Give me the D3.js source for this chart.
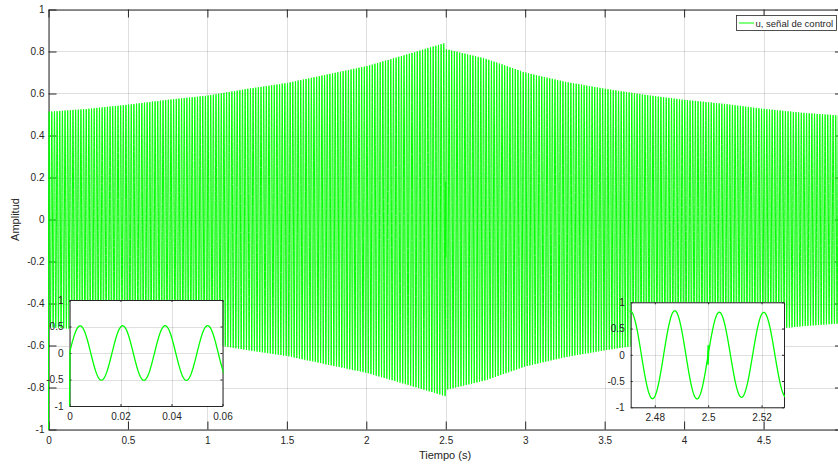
<!DOCTYPE html>
<html><head><meta charset="utf-8">
<script src="https://cdn.jsdelivr.net/npm/d3@7"></script>
<style>
body{margin:0;background:#fff;}
svg text{font-family:"Liberation Sans",Arial,Helvetica,sans-serif;fill:#262626;}
</style></head>
<body><svg id="c" width="838" height="464"></svg>
<script>
// ---- data ----
const carrierHz = 60;                 // 60 Hz sinusoid (period ~0.0167 s)
const startValue = -1;                // first sample of the signal
const riseTimes = [0, 0.25, 0.5, 0.75, 1, 1.25, 1.5, 1.75, 2, 2.25, 2.5];
const riseAmp   = [0.513, 0.527, 0.547, 0.57, 0.59, 0.622, 0.65, 0.69, 0.73, 0.785, 0.842];
const fallTimes = [2.5, 2.75, 3, 3.25, 3.5, 3.75, 4, 4.25, 4.5, 4.75, 5];
const fallAmp   = [0.812, 0.766, 0.70, 0.656, 0.623, 0.594, 0.57, 0.551, 0.527, 0.508, 0.494];
const glitchT   = [2.5, 2.5];
const glitchV   = [0.18, -0.18];
const mainXTicks = [0, 0.5, 1, 1.5, 2, 2.5, 3, 3.5, 4, 4.5];
const mainYTicks = [-1, -0.8, -0.6, -0.4, -0.2, 0, 0.2, 0.4, 0.6, 0.8, 1];
const inset1XTicks = [0, 0.02, 0.04, 0.06];
const inset2XTicks = [2.48, 2.5, 2.52];
const insetYTicks = [-1, -0.5, 0, 0.5, 1];
const legendLabel = "u, señal de control";

// ---- build the sampled signal ----
const fs = 5000;
const riseEnv = d3.scaleLinear().domain(riseTimes).range(riseAmp);
const fallEnv = d3.scaleLinear().domain(fallTimes).range(fallAmp);
const signal = [[0, startValue]];
const iMid = 2.5 * fs;
for (let i = 1; i <= 5 * fs; i++) {
  const t = i / fs;
  if (i === iMid) { glitchT.forEach((g, k) => signal.push([g, glitchV[k]])); continue; }
  const A = i < iMid ? riseEnv(t) : fallEnv(t);
  signal.push([t, A * Math.sin(2 * Math.PI * carrierHz * t)]);
}

const svg = d3.select("#c");
const GREEN = "#00ff00", INK = "#262626";
let clipId = 0;

function panel(box, xDom, yDom, xTicks, yTicks, opt) {
  const x = d3.scaleLinear().domain(xDom).range([box.l, box.r]);
  const y = d3.scaleLinear().domain(yDom).range([box.b, box.t]);
  const g = svg.append("g");
  g.append("rect").attr("x", box.l).attr("y", box.t).attr("width", box.r - box.l).attr("height", box.b - box.t).attr("fill", "#fff");
  const id = "clip" + (clipId++);
  g.append("clipPath").attr("id", id).append("rect").attr("x", box.l - 1).attr("y", box.t - 1).attr("width", box.r - box.l + 2).attr("height", box.b - box.t + 2);
  // grid
  const grid = g.append("g").attr("stroke", INK).attr("stroke-opacity", 0.15).attr("stroke-width", 1);
  xTicks.forEach(v => grid.append("line").attr("x1", Math.round(x(v)) + 0.5).attr("x2", Math.round(x(v)) + 0.5).attr("y1", box.t).attr("y2", box.b));
  yTicks.forEach(v => grid.append("line").attr("y1", Math.round(y(v)) + 0.5).attr("y2", Math.round(y(v)) + 0.5).attr("x1", box.l).attr("x2", box.r));
  // axes
  const fmt = d => String(+d.toFixed(3));
  const ax = (gen, tr) => {
    const a = g.append("g").attr("transform", tr).call(gen);
    a.selectAll("path.domain").attr("stroke", INK);
    a.selectAll("line").attr("stroke", INK);
    a.selectAll("text").attr("fill", INK).style("font-size", opt.fs + "px")
      .style("font-family", '"Liberation Sans",Arial,sans-serif');
    return a;
  };
  ax(d3.axisBottom(x).tickValues(xTicks).tickFormat(fmt).tickSizeInner(-opt.tl).tickSizeOuter(0).tickPadding(opt.padX), `translate(0,${box.b})`);
  ax(d3.axisLeft(y).tickValues(yTicks).tickFormat(fmt).tickSizeInner(-opt.tl).tickSizeOuter(0).tickPadding(opt.padY), `translate(${box.l},0)`);
  ax(d3.axisTop(x).tickValues(xTicks).tickFormat("").tickSizeInner(-opt.tl).tickSizeOuter(0), `translate(0,${box.t})`);
  ax(d3.axisRight(y).tickValues(yTicks).tickFormat("").tickSizeInner(-opt.tl).tickSizeOuter(0), `translate(${box.r},0)`);
  // data on top (default bottom layer for axes)
  const data = signal.filter(d => d[0] >= xDom[0] - 0.002 && d[0] <= xDom[1] + 0.002);
  const line = d3.line().x(d => x(d[0])).y(d => y(d[1]));
  g.append("path").attr("clip-path", `url(#${id})`).attr("d", line(data))
    .attr("fill", "none").attr("stroke", GREEN).attr("stroke-width", opt.lw).attr("stroke-linejoin", "round");
  return { x, y, g };
}

// main axes
panel({ l: 48.5, r: 843, t: 9.5, b: 429.5 }, [0, 5], [-1, 1], mainXTicks, mainYTicks,
  { lw: 1, tl: 8, fs: 10, padX: 7, padY: 4 });

svg.append("text").attr("x", 445).attr("y", 459).attr("text-anchor", "middle").style("font-size", "11px").text("Tiempo (s)");
svg.append("text").attr("transform", "translate(19,219.5) rotate(-90)").attr("text-anchor", "middle").style("font-size", "11px").text("Amplitud");

// insets
panel({ l: 69.5, r: 222.5, t: 300, b: 406 }, [0, 0.06], [-1, 1], inset1XTicks, insetYTicks,
  { lw: 1.3, tl: 2, fs: 10, padX: 7, padY: 6 });
panel({ l: 630.7, r: 784, t: 302.3, b: 407.3 }, [2.471, 2.5284], [-1, 1], inset2XTicks, insetYTicks,
  { lw: 1.3, tl: 2, fs: 10, padX: 7, padY: 6 });

// legend
const lg = svg.append("g");
lg.append("rect").attr("x", 736.5).attr("y", 15.5).attr("width", 100).attr("height", 15).attr("fill", "#fff").attr("stroke", INK).attr("stroke-width", 0.8);
lg.append("line").attr("x1", 739).attr("x2", 754).attr("y1", 23).attr("y2", 23).attr("stroke", GREEN).attr("stroke-width", 1);
lg.append("text").attr("x", 755.5).attr("y", 26.5).style("font-size", "9.5px").text(legendLabel);
</script></body></html>
